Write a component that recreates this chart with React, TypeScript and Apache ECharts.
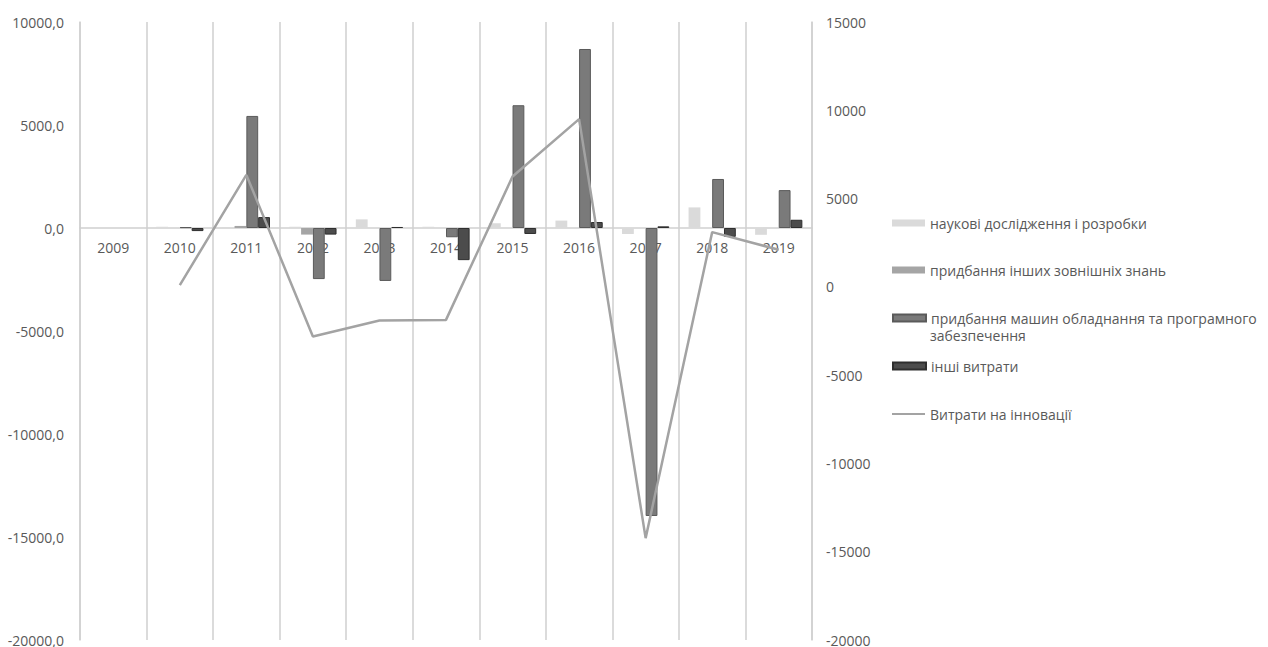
import React, { useEffect, useRef } from "react";
import * as echarts from "echarts";

// Categories (years)
const years = ["2009", "2010", "2011", "2012", "2013", "2014", "2015", "2016", "2017", "2018", "2019"];

// Bar series (left axis)
const research = [null, 60, 40, 60, 420, 60, 230, 360, -290, 1000, -330];
const externalKnowledge = [null, 0, 100, -320, 0, 0, 0, 0, 0, 0, 0];
const machinery = [null, 40, 5440, -2480, -2570, -450, 5960, 8690, -13980, 2380, 1840];
const otherCosts = [null, -150, 530, -320, 50, -1560, -290, 290, 80, -430, 400];

// Line series (right axis)
const innovationCosts = [null, 100, 6340, -2810, -1910, -1870, 6250, 9500, -14230, 3100, 2100];

// Axis settings
const leftTicks = { min: -20000, max: 10000, interval: 5000 };
const rightTicks = { min: -20000, max: 15000, interval: 5000 };

const names = [
  "наукові дослідження і розробки",
  "придбання інших зовнішніх знань",
  "придбання машин обладнання та програмного забезпечення",
  "інші витрати",
  "Витрати на інновації",
];

const FONT = "'Open Sans', 'Noto Sans', sans-serif";
const TEXT_COLOR = "#595959";

const GRID = { left: 80, right: 456, top: 22, bottom: 7 };
const HEIGHT = 647;

export default function App() {
  const ref = useRef<HTMLDivElement>(null);

  useEffect(() => {
    if (!ref.current) return;
    const chart = echarts.init(ref.current, undefined, { renderer: "svg" });

    // Category axis sits on the left axis' zero line
    const plotH = HEIGHT - GRID.top - GRID.bottom;
    const zeroFromBottom = (plotH * (0 - leftTicks.min)) / (leftTicks.max - leftTicks.min);

    const legendBase = {
      orient: "vertical",
      left: 892,
      padding: 0,
      itemWidth: 33,
      itemHeight: 7,
      itemGap: 0,
      textStyle: { color: TEXT_COLOR, fontSize: 14, fontFamily: FONT },
      selectedMode: false,
    };
    const legendCenters = [226, 273, 321, 369, 417];

    const barBase = {
      type: "bar",
      yAxisIndex: 0,
      barGap: "0%",
      barCategoryGap: "29%",
    };

    chart.setOption({
      animation: false,
      backgroundColor: "#ffffff",
      grid: { ...GRID, containLabel: false, outerBoundsMode: "none" },
      legend: names.map((n, i) => ({
        ...legendBase,
        top: legendCenters[i] - 10,
        itemHeight: i < 4 ? 7 : 2,
        data: [{ name: n, icon: "rect", itemStyle: i < 4 ? undefined : { color: "#a3a3a3" } }],
        formatter: (s: string) =>
          s === names[2] ? "придбання машин обладнання та програмного" : s,
      })),
      graphic: [
        {
          type: "text",
          left: 930,
          top: 328,
          style: {
            text: "забезпечення",
            fill: TEXT_COLOR,
            font: `14px ${FONT}`,
          },
        },
      ],
      xAxis: {
        type: "category",
        data: years,
        boundaryGap: true,
        offset: -zeroFromBottom,
        axisLine: { onZero: false, lineStyle: { color: "#d0d0d0", width: 1.5 } },
        axisTick: { show: false },
        axisLabel: { color: TEXT_COLOR, fontSize: 14, fontFamily: FONT, margin: 12, interval: 0 },
        splitLine: { show: true, lineStyle: { color: "#cfcfcf", width: 1.5 } },
      },
      yAxis: [
        {
          type: "value",
          position: "left",
          ...leftTicks,
          axisLine: { show: true, lineStyle: { color: "#d0d0d0", width: 1.5 } },
          axisTick: { show: false },
          splitLine: { show: false },
          axisLabel: {
            color: TEXT_COLOR,
            fontSize: 14,
            fontFamily: FONT,
            margin: 16,
            formatter: (v: number) => v.toFixed(1).replace(".", ","),
          },
        },
        {
          type: "value",
          position: "right",
          ...rightTicks,
          axisLine: { show: true, lineStyle: { color: "#d0d0d0", width: 1.5 } },
          axisTick: { show: false },
          splitLine: { show: false },
          axisLabel: {
            color: TEXT_COLOR,
            fontSize: 14,
            fontFamily: FONT,
            margin: 14,
            formatter: (v: number) => String(v),
          },
        },
      ],
      series: [
        {
          ...barBase,
          name: names[0],
          data: research,
          itemStyle: { color: "#dadada" },
        },
        {
          ...barBase,
          name: names[1],
          data: externalKnowledge,
          itemStyle: { color: "#a5a5a5" },
        },
        {
          ...barBase,
          name: names[2],
          data: machinery,
          itemStyle: { color: "#7a7a7a", borderColor: "#5a5a5a", borderWidth: 1 },
        },
        {
          ...barBase,
          name: names[3],
          data: otherCosts,
          itemStyle: { color: "#4c4c4c", borderColor: "#2e2e2e", borderWidth: 1 },
        },
        {
          type: "line",
          name: names[4],
          yAxisIndex: 1,
          data: innovationCosts,
          symbol: "none",
          connectNulls: false,
          lineStyle: { color: "#a3a3a3", width: 2.5 },
          itemStyle: { color: "#a3a3a3" },
          z: 5,
        },
      ],
    });

    return () => chart.dispose();
  }, []);

  return (
    <div
      ref={ref}
      style={{ position: "fixed", left: 0, top: 0, width: 1268, height: HEIGHT, background: "#fff" }}
    />
  );
}
